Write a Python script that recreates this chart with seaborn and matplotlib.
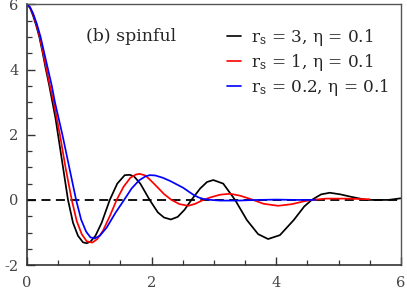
import matplotlib
matplotlib.use("Agg")
import matplotlib.pyplot as plt
from matplotlib.ticker import MultipleLocator
import pandas as pd
import seaborn as sns

# values
x_rs3 = [0, 0.05, 0.1, 0.15, 0.2, 0.25, 0.3, 0.36, 0.41, 0.46, 0.5, 0.58, 0.66, 0.74,
         0.82, 0.9, 0.96, 1.02, 1.1, 1.2, 1.33, 1.45, 1.57, 1.65, 1.72, 1.82, 1.97, 2.1,
         2.2, 2.31, 2.42, 2.53, 2.64, 2.78, 2.89, 2.99, 3.15, 3.34, 3.53, 3.71, 3.87,
         4.06, 4.28, 4.45, 4.57, 4.72, 4.86, 5.03, 5.19, 5.45, 5.8, 6.0]
y_rs3 = [6.0, 5.9, 5.65, 5.35, 5.0, 4.55, 4.05, 3.5, 3.0, 2.5, 2.0, 1.0, 0.0, -0.7,
         -1.1, -1.3, -1.33, -1.28, -1.1, -0.7, 0.0, 0.5, 0.76, 0.77, 0.72, 0.5, 0.0, -0.38,
         -0.54, -0.6, -0.52, -0.3, 0.0, 0.35, 0.55, 0.61, 0.5, 0.0, -0.62, -1.05, -1.2,
         -1.08, -0.62, -0.2, 0.0, 0.17, 0.22, 0.17, 0.1, 0.0, 0.0, 0.05]

x_rs1 = [0, 0.05, 0.1, 0.15, 0.2, 0.25, 0.31, 0.37, 0.43, 0.48, 0.53, 0.62, 0.72, 0.8,
         0.88, 0.96, 1.05, 1.13, 1.22, 1.33, 1.44, 1.55, 1.66, 1.75, 1.81, 1.9, 1.97, 2.1,
         2.2, 2.32, 2.45, 2.59, 2.7, 2.83, 2.95, 3.1, 3.26, 3.42, 3.6, 3.8, 4.03, 4.25,
         4.45, 4.57, 4.8, 5.1, 5.3, 5.5]
y_rs1 = [6.0, 5.9, 5.7, 5.4, 5.05, 4.6, 4.05, 3.5, 3.0, 2.5, 2.0, 1.0, 0.0, -0.65,
         -1.05, -1.27, -1.31, -1.2, -0.95, -0.5, 0.0, 0.4, 0.68, 0.78, 0.8, 0.75, 0.63, 0.38,
         0.18, 0.0, -0.13, -0.18, -0.12, 0.0, 0.08, 0.16, 0.19, 0.13, 0.02, -0.12, -0.18, -0.13,
         -0.04, 0.0, 0.04, 0.04, 0.03, 0.02]

x_rs02 = [0, 0.05, 0.1, 0.16, 0.22, 0.28, 0.34, 0.4, 0.45, 0.51, 0.57, 0.68, 0.79, 0.87,
          0.95, 1.02, 1.09, 1.17, 1.28, 1.42, 1.56, 1.68, 1.8, 1.9, 1.97, 2.06, 2.18, 2.3,
          2.41, 2.51, 2.6, 2.67, 2.75, 2.83, 2.95, 3.1, 3.4, 3.7, 4.0, 4.3, 4.63]
y_rs02 = [6.0, 5.92, 5.72, 5.4, 5.0, 4.5, 4.0, 3.5, 3.0, 2.5, 2.0, 1.0, 0.0, -0.6,
          -0.97, -1.15, -1.18, -1.1, -0.85, -0.4, 0.0, 0.35, 0.6, 0.72, 0.76, 0.75, 0.68, 0.58,
          0.47, 0.37, 0.25, 0.16, 0.08, 0.03, 0.0, -0.02, -0.02, 0.0, 0.01, 0.0, 0.0]

labels = [r"$\mathrm{r_s}$ = 3, η = 0.1",
          r"$\mathrm{r_s}$ = 1, η = 0.1",
          r"$\mathrm{r_s}$ = 0.2, η = 0.1"]
colors = ["black", "red", "blue"]

frames = []
for xs, ys, lab in zip([x_rs3, x_rs1, x_rs02], [y_rs3, y_rs1, y_rs02], labels):
    frames.append(pd.DataFrame({"x": xs, "y": ys, "curve": lab}))
df = pd.concat(frames, ignore_index=True)

sns.set_style("ticks")
plt.rcParams["font.family"] = ["DejaVu Serif"]
plt.rcParams["mathtext.fontset"] = "dejavuserif"

fig = plt.figure(figsize=(4.07, 2.91), dpi=100)
ax = fig.add_axes([0.066, 0.089, 0.919, 0.896])

ax.axhline(0, color="black", lw=1.3, ls=(0, (5, 3)), zorder=1)
sns.lineplot(data=df, x="x", y="y", hue="curve", palette=colors, hue_order=labels,
             estimator=None, sort=False, lw=1.25, ax=ax, zorder=2)

ax.set_xlim(0, 6)
ax.set_ylim(-2, 6)
ax.xaxis.set_major_locator(MultipleLocator(2))
ax.xaxis.set_minor_locator(MultipleLocator(0.5))
ax.yaxis.set_major_locator(MultipleLocator(2))
ax.yaxis.set_minor_locator(MultipleLocator(0.5))
ax.tick_params(which="both", direction="in", top=False, right=False,
               labelsize=10.5, labelcolor="#444444", color="#333333")
ax.tick_params(which="major", length=5.5, width=1, pad=6)
ax.tick_params(axis="x", which="major", pad=7.5)
ax.tick_params(which="minor", length=3.5, width=0.9)
ax.set_yticks([-2, 0, 2, 4, 6])
ax.set_yticklabels(["-2", "0", "2", "4", "6"])
ax.set_xlabel("")
ax.set_ylabel("")
for side in ["left", "bottom"]:
    ax.spines[side].set_color("#333333")
    ax.spines[side].set_linewidth(1.2)
for side in ["top", "right"]:
    ax.spines[side].set_color("#555555")
    ax.spines[side].set_linewidth(1.0)

ax.text(0.95, 5.02, "(b) spinful", fontsize=12.5, va="center", ha="left")
leg = ax.legend(loc="upper right", bbox_to_anchor=(1.0, 0.958), frameon=False,
                fontsize=12.2, handlelength=0.8, handletextpad=0.6, labelspacing=0.22,
                borderaxespad=0.3)
for line in leg.get_lines():
    line.set_linewidth(1.2)

fig.savefig("out.png", dpi=100)
